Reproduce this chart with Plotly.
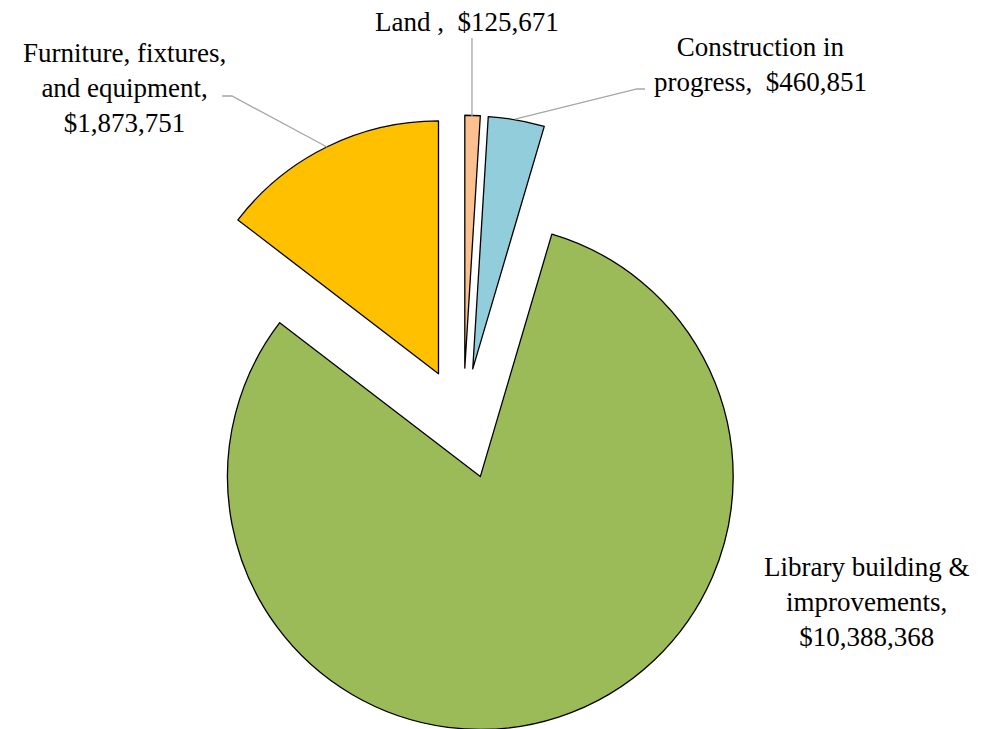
import plotly.graph_objects as go

# capital assets by category
labels = ['Land', 'Construction in progress', 'Library building & improvements',
          'Furniture, fixtures, and equipment']
values = [125671, 460851, 10388368, 1873751]
colors = ['#FAC090', '#92CDDC', '#9BBB59', '#FFC000']
label_text = ['Land ,  $125,671',
              'Construction in<br>progress,  $460,851',
              'Library building &<br>improvements,<br>$10,388,368',
              'Furniture, fixtures,<br>and equipment,<br>$1,873,751']

W, H = 984, 729
OFF = 8  # page body margin


def px(x, y):
    # screen pixel position -> paper coordinates
    return (x - OFF) / W, 1 - (y - OFF) / H


fig = go.Figure()
fig.add_trace(go.Pie(labels=labels, values=values, sort=False, direction='clockwise',
                     rotation=0, pull=[0.22] * 4, textinfo='none',
                     marker=dict(colors=colors, line=dict(color='black', width=1.3)),
                     domain=dict(x=[0.149, 0.776], y=[0, 0.8595]),
                     showlegend=False))

# data labels
label_pos = [(467, 22), (760, 65), (866, 602), (124, 88)]
for txt, (x, y) in zip(label_text, label_pos):
    ax, ay = px(x, y)
    fig.add_annotation(x=ax, y=ay, xref='paper', yref='paper', text=txt, showarrow=False,
                       xanchor='center', yanchor='middle', align='center',
                       font=dict(family='Liberation Serif', size=27, color='black'))

# leader lines
leaders = [
    [(472, 38), (472, 116)],
    [(515, 119), (637, 89), (645, 89)],
    [(222, 96), (232, 96), (327, 147)],
]
for pts in leaders:
    path = ''
    for i, (x, y) in enumerate(pts):
        a, b = px(x, y)
        path += ('M' if i == 0 else 'L') + f' {a:.4f},{b:.4f} '
    fig.add_shape(type='path', path=path, xref='paper', yref='paper',
                  line=dict(color='#A6A6A6', width=1.3))

fig.update_layout(width=W, height=H, margin=dict(l=0, r=0, t=0, b=0),
                  paper_bgcolor='white', plot_bgcolor='white')

fig.write_html("out.html")
